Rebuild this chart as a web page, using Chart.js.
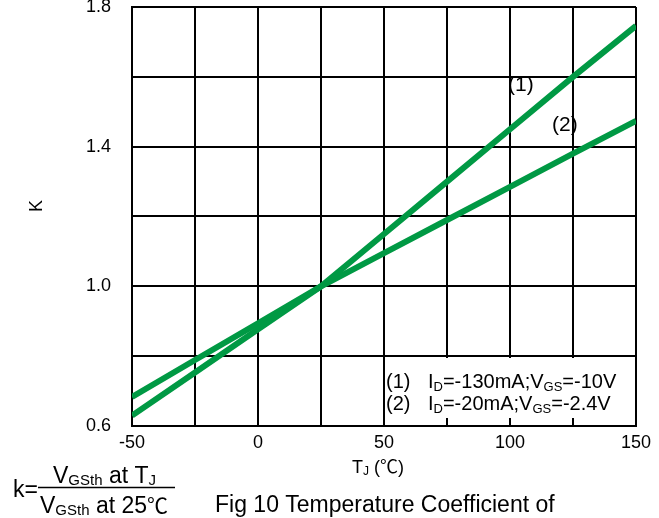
<!DOCTYPE html>
<html>
<head>
<meta charset="utf-8">
<script src="https://cdn.jsdelivr.net/npm/chart.js@4.4.1/dist/chart.umd.min.js"></script>
<style>
  html, body { margin: 0; padding: 0; background: #fff; }
  canvas { display: block; }
</style>
</head>
<body>
<canvas id="chart" width="659" height="518"></canvas>
<script>
// ── Data ──
const temps = [-50, -25, 0, 25, 50, 75, 100, 125, 150];
const k1 = [0.63, 0.753, 0.877, 1.0, 1.15, 1.30, 1.45, 1.60, 1.746];   // (1) ID=-130mA
const k2 = [0.683, 0.789, 0.894, 1.0, 1.095, 1.19, 1.285, 1.38, 1.474]; // (2) ID=-20mA
const xLabels = [-50, 0, 50, 100, 150];
const yLabels = [0.6, 1.0, 1.4, 1.8];

const GREEN = '#009944';
const FONT = '"Liberation Sans", Arial, "Noto Sans CJK SC", sans-serif';
const CJK = '"Noto Sans CJK SC", sans-serif';

// texto con subíndices: parts = [[texto, tamaño, dy, familia], ...]
function runs(ctx, x, y, parts) {
  parts.forEach(p => {
    ctx.font = p[1] + 'px ' + (p[3] || FONT);
    ctx.fillText(p[0], x, y + (p[2] || 0));
    x += ctx.measureText(p[0]).width;
  });
  return x;
}

const annotations = {
  id: 'annotations',
  afterDraw(chart) {
    const ctx = chart.ctx;
    ctx.save();
    ctx.fillStyle = '#fff';
    ctx.fillRect(386, 358, 248, 60);

    ctx.fillStyle = '#000';
    ctx.textAlign = 'left';
    ctx.textBaseline = 'alphabetic';

    // cuadro de condiciones
    runs(ctx, 386, 388, [['(1)', 20]]);
    runs(ctx, 428, 388, [['I', 20], ['D', 13, 3], ['=-130mA;V', 20], ['GS', 13, 3], ['=-10V', 20]]);
    runs(ctx, 386, 410, [['(2)', 20]]);
    runs(ctx, 428, 410, [['I', 20], ['D', 13, 3], ['=-20mA;V', 20], ['GS', 13, 3], ['=-2.4V', 20]]);

    // etiquetas de curvas
    runs(ctx, 508, 91, [['(1)', 21]]);
    runs(ctx, 552, 131, [['(2)', 21]]);

    // título eje X
    runs(ctx, 352, 473, [['T', 18], ['J', 12, 2], [' (', 18], ['℃', 18, 0, CJK], [')', 18]]);

    // título eje Y
    ctx.save();
    ctx.translate(42, 206);
    ctx.rotate(-Math.PI / 2);
    ctx.textAlign = 'center';
    ctx.font = '18px ' + FONT;
    ctx.fillText('K', 0, 0);
    ctx.restore();

    // fórmula
    runs(ctx, 13, 497, [['k=', 23]]);
    runs(ctx, 53, 483, [['V', 23], ['GSth', 15, 2], [' at T', 23], ['J', 15, 2]]);
    runs(ctx, 40, 513, [['V', 23], ['GSth', 15, 2], [' at 25', 23], ['℃', 21, 0, CJK]]);
    ctx.lineWidth = 1.5;
    ctx.beginPath();
    ctx.moveTo(38, 487.5);
    ctx.lineTo(175, 487.5);
    ctx.stroke();

    // pie de figura
    runs(ctx, 215, 512, [['Fig 10 Temperature Coefficient of', 23]]);
    ctx.restore();
  }
};

new Chart(document.getElementById('chart'), {
  type: 'line',
  data: {
    datasets: [
      { label: '(1)', data: temps.map((t, i) => ({ x: t, y: k1[i] })),
        borderColor: GREEN, borderWidth: 6, pointRadius: 0, tension: 0 },
      { label: '(2)', data: temps.map((t, i) => ({ x: t, y: k2[i] })),
        borderColor: GREEN, borderWidth: 6, pointRadius: 0, tension: 0 }
    ]
  },
  options: {
    responsive: false,
    animation: false,
    layout: { padding: { left: 0, right: 23, top: 7, bottom: 0 } },
    plugins: { legend: { display: false }, tooltip: { enabled: false } },
    scales: {
      x: {
        type: 'linear', min: -50, max: 150,
        grid: { color: '#000', lineWidth: 2, drawTicks: false },
        border: { color: '#000', width: 2 },
        ticks: {
          stepSize: 25, autoSkip: false, maxRotation: 0, padding: 6,
          color: '#000', font: { family: FONT, size: 18 },
          callback: v => xLabels.includes(v) ? String(v) : ''
        },
        afterFit: s => { s.height = 92; s.paddingLeft = 0; s.paddingRight = 0; }
      },
      y: {
        min: 0.6, max: 1.8,
        grid: { color: '#000', lineWidth: 2, drawTicks: false },
        border: { color: '#000', width: 2 },
        ticks: {
          stepSize: 0.2, autoSkip: false, padding: 21,
          color: '#000', font: { family: FONT, size: 18 },
          callback: v => yLabels.some(t => Math.abs(t - v) < 1e-6) ? v.toFixed(1) : ''
        },
        afterFit: s => { s.width = 132; s.paddingTop = 0; s.paddingBottom = 0; }
      }
    }
  },
  plugins: [annotations]
});
</script>
</body>
</html>
